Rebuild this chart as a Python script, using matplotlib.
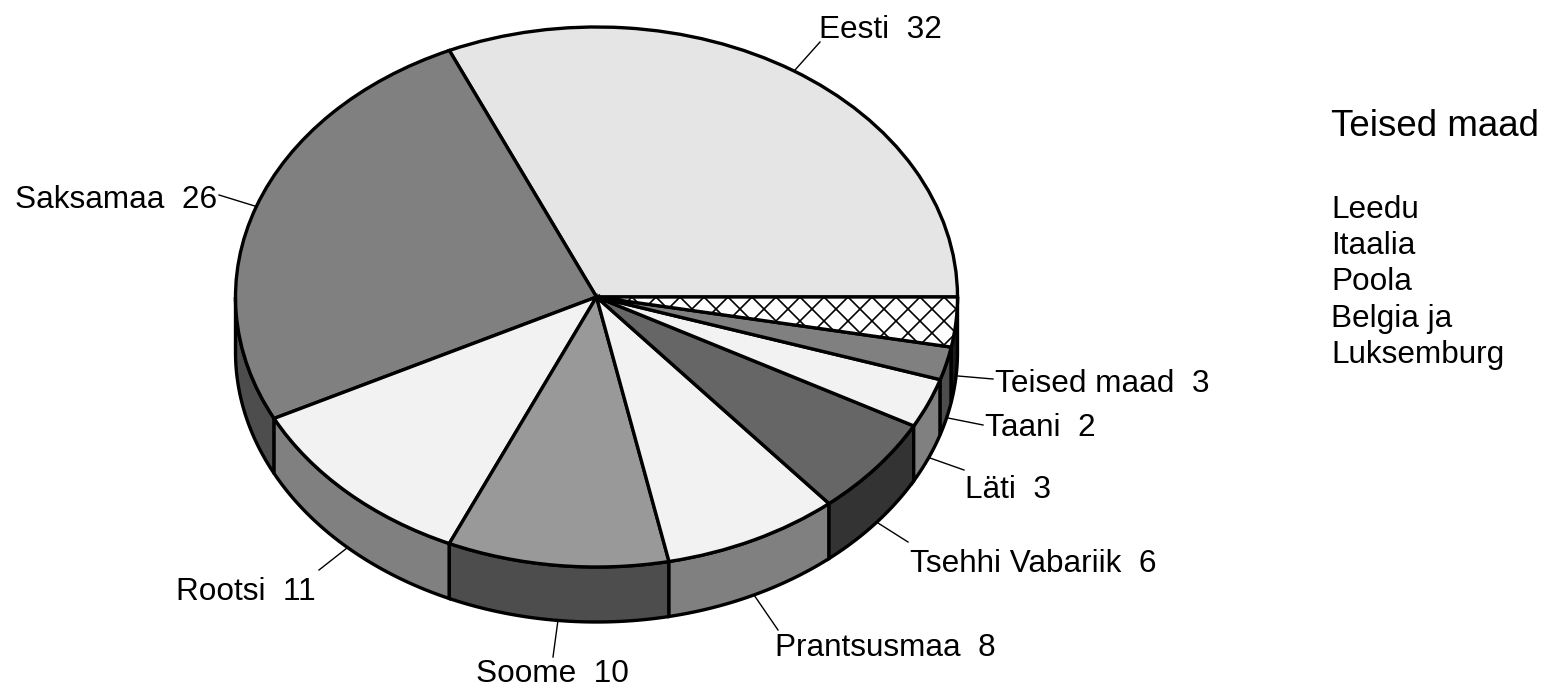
import numpy as np
import matplotlib
matplotlib.use("Agg")
import matplotlib.pyplot as plt
from matplotlib.patches import Polygon

plt.rcParams["font.family"] = ["Liberation Sans", "DejaVu Sans"]

# Data
names = ["Eesti", "Saksamaa", "Rootsi", "Soome", "Prantsusmaa",
         "Tsehhi Vabariik", "Läti", "Taani", "Teised maad"]
values = [32, 26, 11, 10, 8, 6, 3, 2, 3]
top_colors = ["#e5e5e5", "#808080", "#f2f2f2", "#999999", "#f2f2f2",
              "#666666", "#f2f2f2", "#808080", "#ffffff"]
side_colors = ["#999999", "#4d4d4d", "#808080", "#4d4d4d", "#808080",
               "#333333", "#808080", "#4d4d4d", "#1a1a1a"]
other_title = "Teised maad"
other_names = ["Leedu", "Itaalia", "Poola", "Belgia ja", "Luksemburg"]

# Label text position (px, centre and baseline) and leader line (px)
label_pos = [(880, 37.5), (116.5, 208.5), (246, 599.5), (552, 682), (885, 655.5),
             (1033, 572.5), (1008, 498.5), (1040, 436.5), (1102, 392.5)]
leaders = [[(795, 70), (820, 42)], [(258, 207), (219, 195)],
           [(347, 548), (319, 570)], [(558, 620), (553, 657)],
           [(754, 595), (778, 630)], [(878, 523), (908, 542)],
           [(930, 458), (964, 470)], [(948, 418), (983, 425)],
           [(958, 376), (993, 379)]]

W, H = 1552, 689
cx, cy, rx, ry, depth = 596.5, 297, 361, 270, 55


def px(x, y):
    return (x - cx) / rx, (cy - y) / ry


fig = plt.figure(figsize=(W / 100, H / 100), dpi=100)
ax = fig.add_axes([0, 0, 1, 1])

# Top of the pie, an ellipse because the axes are not equal
wedges, _ = ax.pie(values, colors=top_colors, startangle=0, radius=1, center=(0, 0),
                   wedgeprops=dict(edgecolor="black", linewidth=2.4, joinstyle="miter"))
ax.set_aspect("auto")
ax.set_xlim(px(0, 0)[0], px(W, 0)[0])
ax.set_ylim(px(0, H)[1], px(0, 0)[1])
ax.axis("off")

# Cross hatch of the last slice; built-in hatches are too fine or too coarse here
for c in np.arange(560, 1360, 24):
    for sign in (1, -1):
        xs, ys = px(np.array([c - 100, c + 100]), np.array([297 - sign * 100, 297 + sign * 100]))
        hatch_line, = ax.plot(xs, ys, color="black", linewidth=1.2, zorder=1.5, scalex=False, scaley=False)
        hatch_line.set_clip_path(wedges[-1])
wedges[-1].set_zorder(1)

# Side wall below the front half
d = depth / ry
edges = np.concatenate([[0], np.cumsum(values)]) / sum(values) * 360
for i in range(len(values)):
    a0, a1 = max(edges[i], 180), edges[i + 1]
    if a1 <= 180:
        continue
    t = np.radians(np.linspace(a0, a1, 60))
    xs, ys = np.cos(t), np.sin(t)
    pts = np.column_stack([np.r_[xs, xs[::-1]], np.r_[ys, ys[::-1] - d]])
    ax.add_patch(Polygon(pts, closed=True, facecolor=side_colors[i], edgecolor="black",
                         linewidth=2.4, joinstyle="miter", zorder=0.5))

# Labels with their leader lines
for line, pos, name, val in zip(leaders, label_pos, names, values):
    xs, ys = zip(*[px(*p) for p in line])
    ax.plot(xs, ys, color="black", linewidth=1.0, zorder=0.4)
    x, y = px(*pos)
    ax.text(x, y, "%s  %d" % (name, val), fontsize=22.7, ha="center", va="baseline")

# List of the other countries on the right
x, y = px(1331, 136.5)
ax.text(x, y, other_title, fontsize=26.5, ha="left", va="baseline")
for k, name in enumerate(other_names):
    x, y = px(1331, 218 + k * 36.2)
    ax.text(x, y, name, fontsize=22.7, ha="left", va="baseline")

plt.savefig("out.png", dpi=100)
